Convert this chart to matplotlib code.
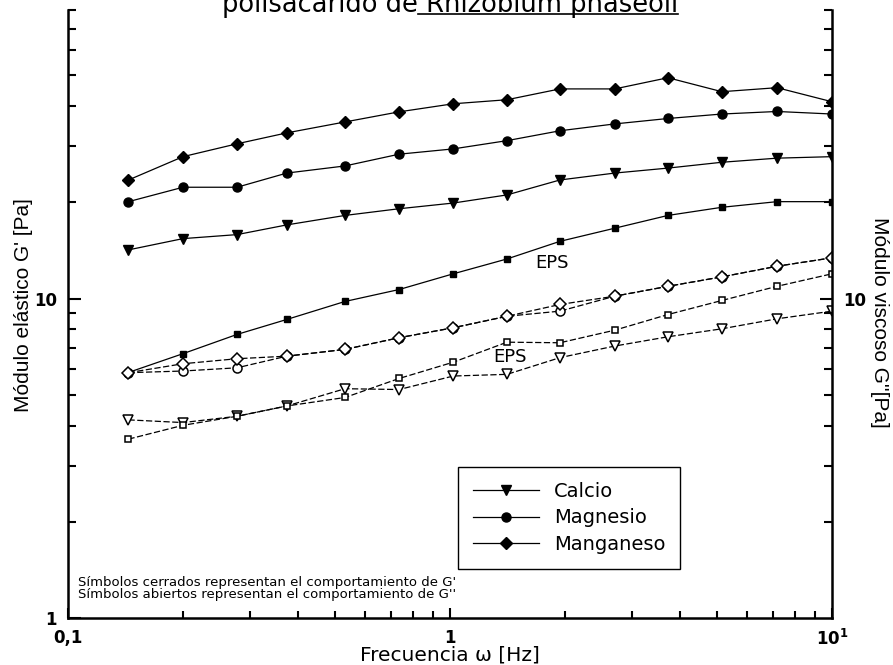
import matplotlib
matplotlib.use("Agg")
import matplotlib.pyplot as plt
from matplotlib.ticker import LogLocator, NullFormatter
from matplotlib.lines import Line2D

# frecuencia (Hz)
freq = [0.144, 0.2, 0.277, 0.374, 0.531, 0.736, 1.02, 1.41, 1.94, 2.7, 3.72, 5.15, 7.18, 10.0]

# G' (simbolos cerrados)
mn_g1 = [23.5, 27.8, 30.5, 33.0, 35.7, 38.4, 40.7, 41.9, 45.3, 45.3, 49.1, 44.4, 45.7, 41.3]
mg_g1 = [20.1, 22.3, 22.3, 24.7, 26.0, 28.3, 29.4, 31.2, 33.5, 35.2, 36.6, 37.8, 38.5, 37.8]
ca_g1 = [14.2, 15.4, 15.85, 17.0, 18.2, 19.1, 19.9, 21.1, 23.5, 24.7, 25.6, 26.7, 27.5, 27.8]
eps_g1 = [5.87, 6.72, 7.72, 8.6, 9.79, 10.67, 11.95, 13.3, 15.1, 16.6, 18.2, 19.3, 20.1, 20.1]

# G'' (simbolos abiertos)
mn_g2 = [5.86, 6.25, 6.48, 6.60, 6.93, 7.54, 8.10, 8.80, 9.58, 10.17, 10.92, 11.69, 12.62, 13.41]
mg_g2 = [5.86, 5.93, 6.07, 6.60, 6.93, 7.54, 8.10, 8.80, 9.13, 10.17, 10.92, 11.69, 12.62, 13.41]
ca_g2 = [4.17, 4.09, 4.28, 4.61, 5.22, 5.19, 5.72, 5.79, 6.53, 7.10, 7.59, 8.04, 8.64, 9.13]
eps_g2 = [3.63, 4.01, 4.28, 4.61, 4.90, 5.62, 6.32, 7.30, 7.27, 7.96, 8.91, 9.86, 10.92, 11.95]

legend_labels = ["Calcio", "Magnesio", "Manganeso"]
xtick_vals = [0.1, 1, 10]
xtick_labels = ["0,1", "1", r"$\mathbf{10^{1}}$"]

W, H = 893, 665
fig = plt.figure(figsize=(W / 100, H / 100), dpi=100)
ax = fig.add_axes([68 / W, 1 - 618 / H, (832 - 68) / W, (618 - 10) / H])

lw = 0.9
dash = (0, (5, 2))
ax.plot(freq, mn_g1, color="black", lw=lw, marker="D", ms=6, mfc="black", mec="black")
ax.plot(freq, mg_g1, color="black", lw=lw, marker="o", ms=6.5, mfc="black", mec="black")
ax.plot(freq, ca_g1, color="black", lw=lw, marker="v", ms=7.5, mfc="black", mec="black")
ax.plot(freq, eps_g1, color="black", lw=lw, marker="s", ms=5, mfc="black", mec="black")

ax.plot(freq, mg_g2, color="black", lw=lw, ls=dash, marker="o", ms=6.5, mfc="white", mec="black", mew=1.1)
ax.plot(freq, mn_g2, color="black", lw=lw, ls=dash, marker="D", ms=6, mfc="white", mec="black", mew=1.1)
ax.plot(freq, ca_g2, color="black", lw=lw, ls=dash, marker="v", ms=7.5, mfc="white", mec="black", mew=1.1)
ax.plot(freq, eps_g2, color="black", lw=lw, ls=dash, marker="s", ms=5, mfc="white", mec="black", mew=1.1)

ax.set_xscale("log")
ax.set_yscale("log")
ax.set_xlim(0.1, 10)
ax.set_ylim(1, 80)

for s in ["top", "right"]:
    ax.spines[s].set_visible(False)
for s in ["left", "bottom"]:
    ax.spines[s].set_linewidth(1.8)

ax.set_xticks(xtick_vals)
ax.set_xticklabels(xtick_labels, fontsize=12, fontweight="bold")
ax.set_yticks([1, 10])
ax.set_yticklabels(["1", "10"], fontsize=12, fontweight="bold")
ax.xaxis.set_minor_locator(LogLocator(base=10, subs=range(2, 10)))
ax.yaxis.set_minor_locator(LogLocator(base=10, subs=range(2, 10)))
ax.xaxis.set_minor_formatter(NullFormatter())
ax.yaxis.set_minor_formatter(NullFormatter())
ax.tick_params(which="both", direction="in", top=False, right=False, width=1.5, pad=8)
ax.tick_params(axis="y", which="major", length=9)
ax.tick_params(axis="y", which="minor", length=6)
ax.tick_params(axis="x", which="major", length=7)
ax.tick_params(axis="x", which="minor", length=5)

ax2 = ax.twinx()
ax2.set_yscale("log")
ax2.set_ylim(ax.get_ylim())
for s in ["top", "left", "bottom"]:
    ax2.spines[s].set_visible(False)
ax2.spines["right"].set_linewidth(1.8)
ax2.set_yticks([10])
ax2.set_yticklabels(["10"], fontsize=12, fontweight="bold")
ax2.yaxis.set_minor_locator(LogLocator(base=10, subs=range(2, 10)))
ax2.yaxis.set_minor_formatter(NullFormatter())
ax2.tick_params(which="both", direction="in", width=1.5, pad=8)
ax2.tick_params(which="major", length=9)
ax2.tick_params(which="minor", length=6)

# etiquetas EPS
ax.text(1.85, 12.9, "EPS", fontsize=13, ha="center", va="center")
ax.text(1.44, 6.54, "EPS", fontsize=13, ha="center", va="center")

# leyenda
handles = [
    Line2D([], [], color="black", lw=lw, marker="v", ms=7.5),
    Line2D([], [], color="black", lw=lw, marker="o", ms=6.5),
    Line2D([], [], color="black", lw=lw, marker="D", ms=6),
]
leg = ax.legend(handles, legend_labels, loc="upper left",
                bbox_to_anchor=(458 / W, 1 - 467 / H), bbox_transform=fig.transFigure,
                fontsize=14, handlelength=3.4, fancybox=False, framealpha=1,
                edgecolor="black", borderaxespad=0, borderpad=0.75, labelspacing=0.4)
leg.get_frame().set_linewidth(1.0)

# notas
ax.text(0.013, 0.058, "Símbolos cerrados representan el comportamiento de G'",
        transform=ax.transAxes, fontsize=9.5, va="center")
ax.text(0.013, 0.039, "Símbolos abiertos representan el comportamiento de G''",
        transform=ax.transAxes, fontsize=9.5, va="center")

# etiquetas de ejes
fig.text(450 / W, 1 - 655 / H, "Frecuencia ω [Hz]", fontsize=14.5, ha="center", va="center")
narrow = ["Liberation Sans Narrow", "Liberation Sans", "DejaVu Sans"]
fig.text(24 / W, 1 - 305 / H, "Módulo elástico G' [Pa]", family=narrow, fontsize=15,
         rotation=90, ha="center", va="center")
fig.text(879 / W, 1 - 322 / H, "Módulo viscoso G''[Pa]", family=narrow, fontsize=15,
         rotation=270, ha="center", va="center")

# titulo (cortado en la parte superior, como en el original)
ty = 1 - 11.5 / H
fig.text(418 / W, ty, "polisacarido de", fontsize=18.5, ha="right", va="baseline")
t2 = fig.text(418 / W, ty, " Rhizobium phaseoli", fontsize=18.5, ha="left", va="baseline")
fig.canvas.draw()
bb = t2.get_window_extent()
uy = 1 - 13.5 / H
fig.add_artist(Line2D([bb.x0 / W, bb.x1 / W], [uy, uy], transform=fig.transFigure,
                      color="black", lw=1.2))

fig.savefig("out.png", dpi=100)
